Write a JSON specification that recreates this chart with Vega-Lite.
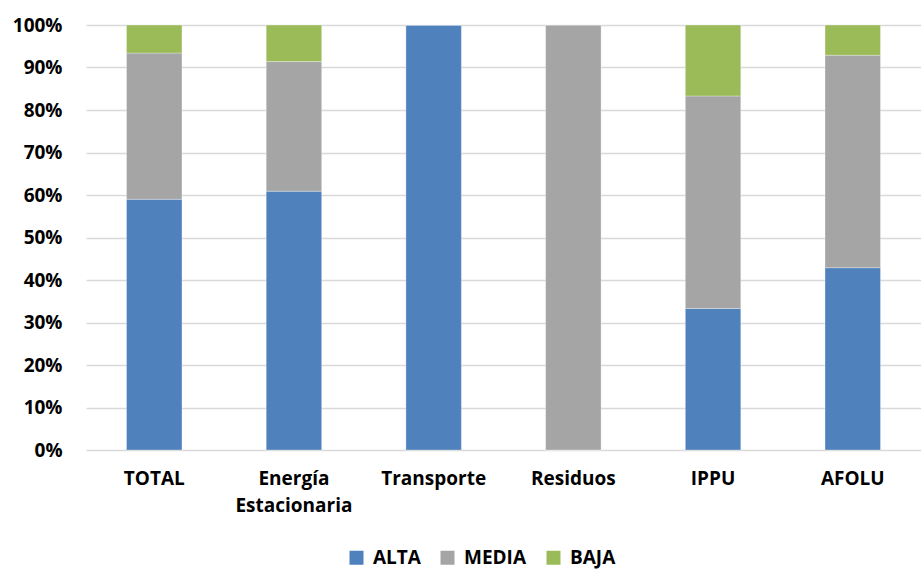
{
  "$schema": "https://vega.github.io/schema/vega-lite/v6.json",
  "width": 835,
  "height": 425,
  "autosize": {"type": "none"},
  "padding": {"left": 86, "top": 25, "right": 0, "bottom": 121},
  "background": "white",
  "data": {"values": [
    {"cat": "TOTAL", "nivel": "ALTA", "ord": 1, "v": 59},
    {"cat": "TOTAL", "nivel": "MEDIA", "ord": 2, "v": 34.4},
    {"cat": "TOTAL", "nivel": "BAJA", "ord": 3, "v": 6.6},
    {"cat": "Energía Estacionaria", "nivel": "ALTA", "ord": 1, "v": 60.9},
    {"cat": "Energía Estacionaria", "nivel": "MEDIA", "ord": 2, "v": 30.5},
    {"cat": "Energía Estacionaria", "nivel": "BAJA", "ord": 3, "v": 8.6},
    {"cat": "Transporte", "nivel": "ALTA", "ord": 1, "v": 100},
    {"cat": "Transporte", "nivel": "MEDIA", "ord": 2, "v": 0},
    {"cat": "Transporte", "nivel": "BAJA", "ord": 3, "v": 0},
    {"cat": "Residuos", "nivel": "ALTA", "ord": 1, "v": 0},
    {"cat": "Residuos", "nivel": "MEDIA", "ord": 2, "v": 100},
    {"cat": "Residuos", "nivel": "BAJA", "ord": 3, "v": 0},
    {"cat": "IPPU", "nivel": "ALTA", "ord": 1, "v": 33.3},
    {"cat": "IPPU", "nivel": "MEDIA", "ord": 2, "v": 50},
    {"cat": "IPPU", "nivel": "BAJA", "ord": 3, "v": 16.7},
    {"cat": "AFOLU", "nivel": "ALTA", "ord": 1, "v": 42.9},
    {"cat": "AFOLU", "nivel": "MEDIA", "ord": 2, "v": 50},
    {"cat": "AFOLU", "nivel": "BAJA", "ord": 3, "v": 7.1}
  ]},
  "mark": {"type": "bar", "stroke": "white", "strokeWidth": 0.5, "strokeOpacity": 0.6},
  "encoding": {
    "x": {
      "field": "cat", "type": "nominal", "sort": null,
      "scale": {"paddingInner": 0.603, "paddingOuter": 0.29},
      "axis": {
        "title": null, "labelAngle": 0, "domain": false, "ticks": false,
        "labelFont": "Open Sans", "labelFontWeight": "bold", "labelFontSize": 19,
        "labelColor": "black", "labelPadding": 19, "labelLineHeight": 27,
        "labelExpr": "datum.label == 'Energía Estacionaria' ? ['Energía', 'Estacionaria'] : datum.label"
      }
    },
    "y": {
      "field": "v", "type": "quantitative", "stack": "zero",
      "scale": {"domain": [0, 100], "nice": false},
      "axis": {
        "title": null, "values": [0,10,20,30,40,50,60,70,80,90,100],
        "labelExpr": "datum.value + '%'",
        "domain": false, "ticks": false, "grid": true, "gridColor": "#d9d9d9", "gridWidth": 1.5,
        "labelFont": "Open Sans", "labelFontWeight": "bold", "labelFontSize": 19,
        "labelColor": "black", "labelPadding": 24
      }
    },
    "color": {
      "field": "nivel", "type": "nominal",
      "scale": {"domain": ["ALTA", "MEDIA", "BAJA"], "range": ["#4f81bd", "#a5a5a5", "#9bbb59"]},
      "legend": {
        "title": null, "orient": "none", "direction": "horizontal",
        "legendX": 261, "legendY": 523,
        "symbolType": "square", "symbolSize": 196, "symbolStrokeWidth": 0,
        "labelFont": "Open Sans", "labelFontWeight": "bold", "labelFontSize": 19,
        "labelColor": "black", "columnPadding": 17, "labelOffset": 7
      }
    },
    "order": {"field": "ord", "type": "quantitative"}
  },
  "config": {"view": {"stroke": null}}
}
